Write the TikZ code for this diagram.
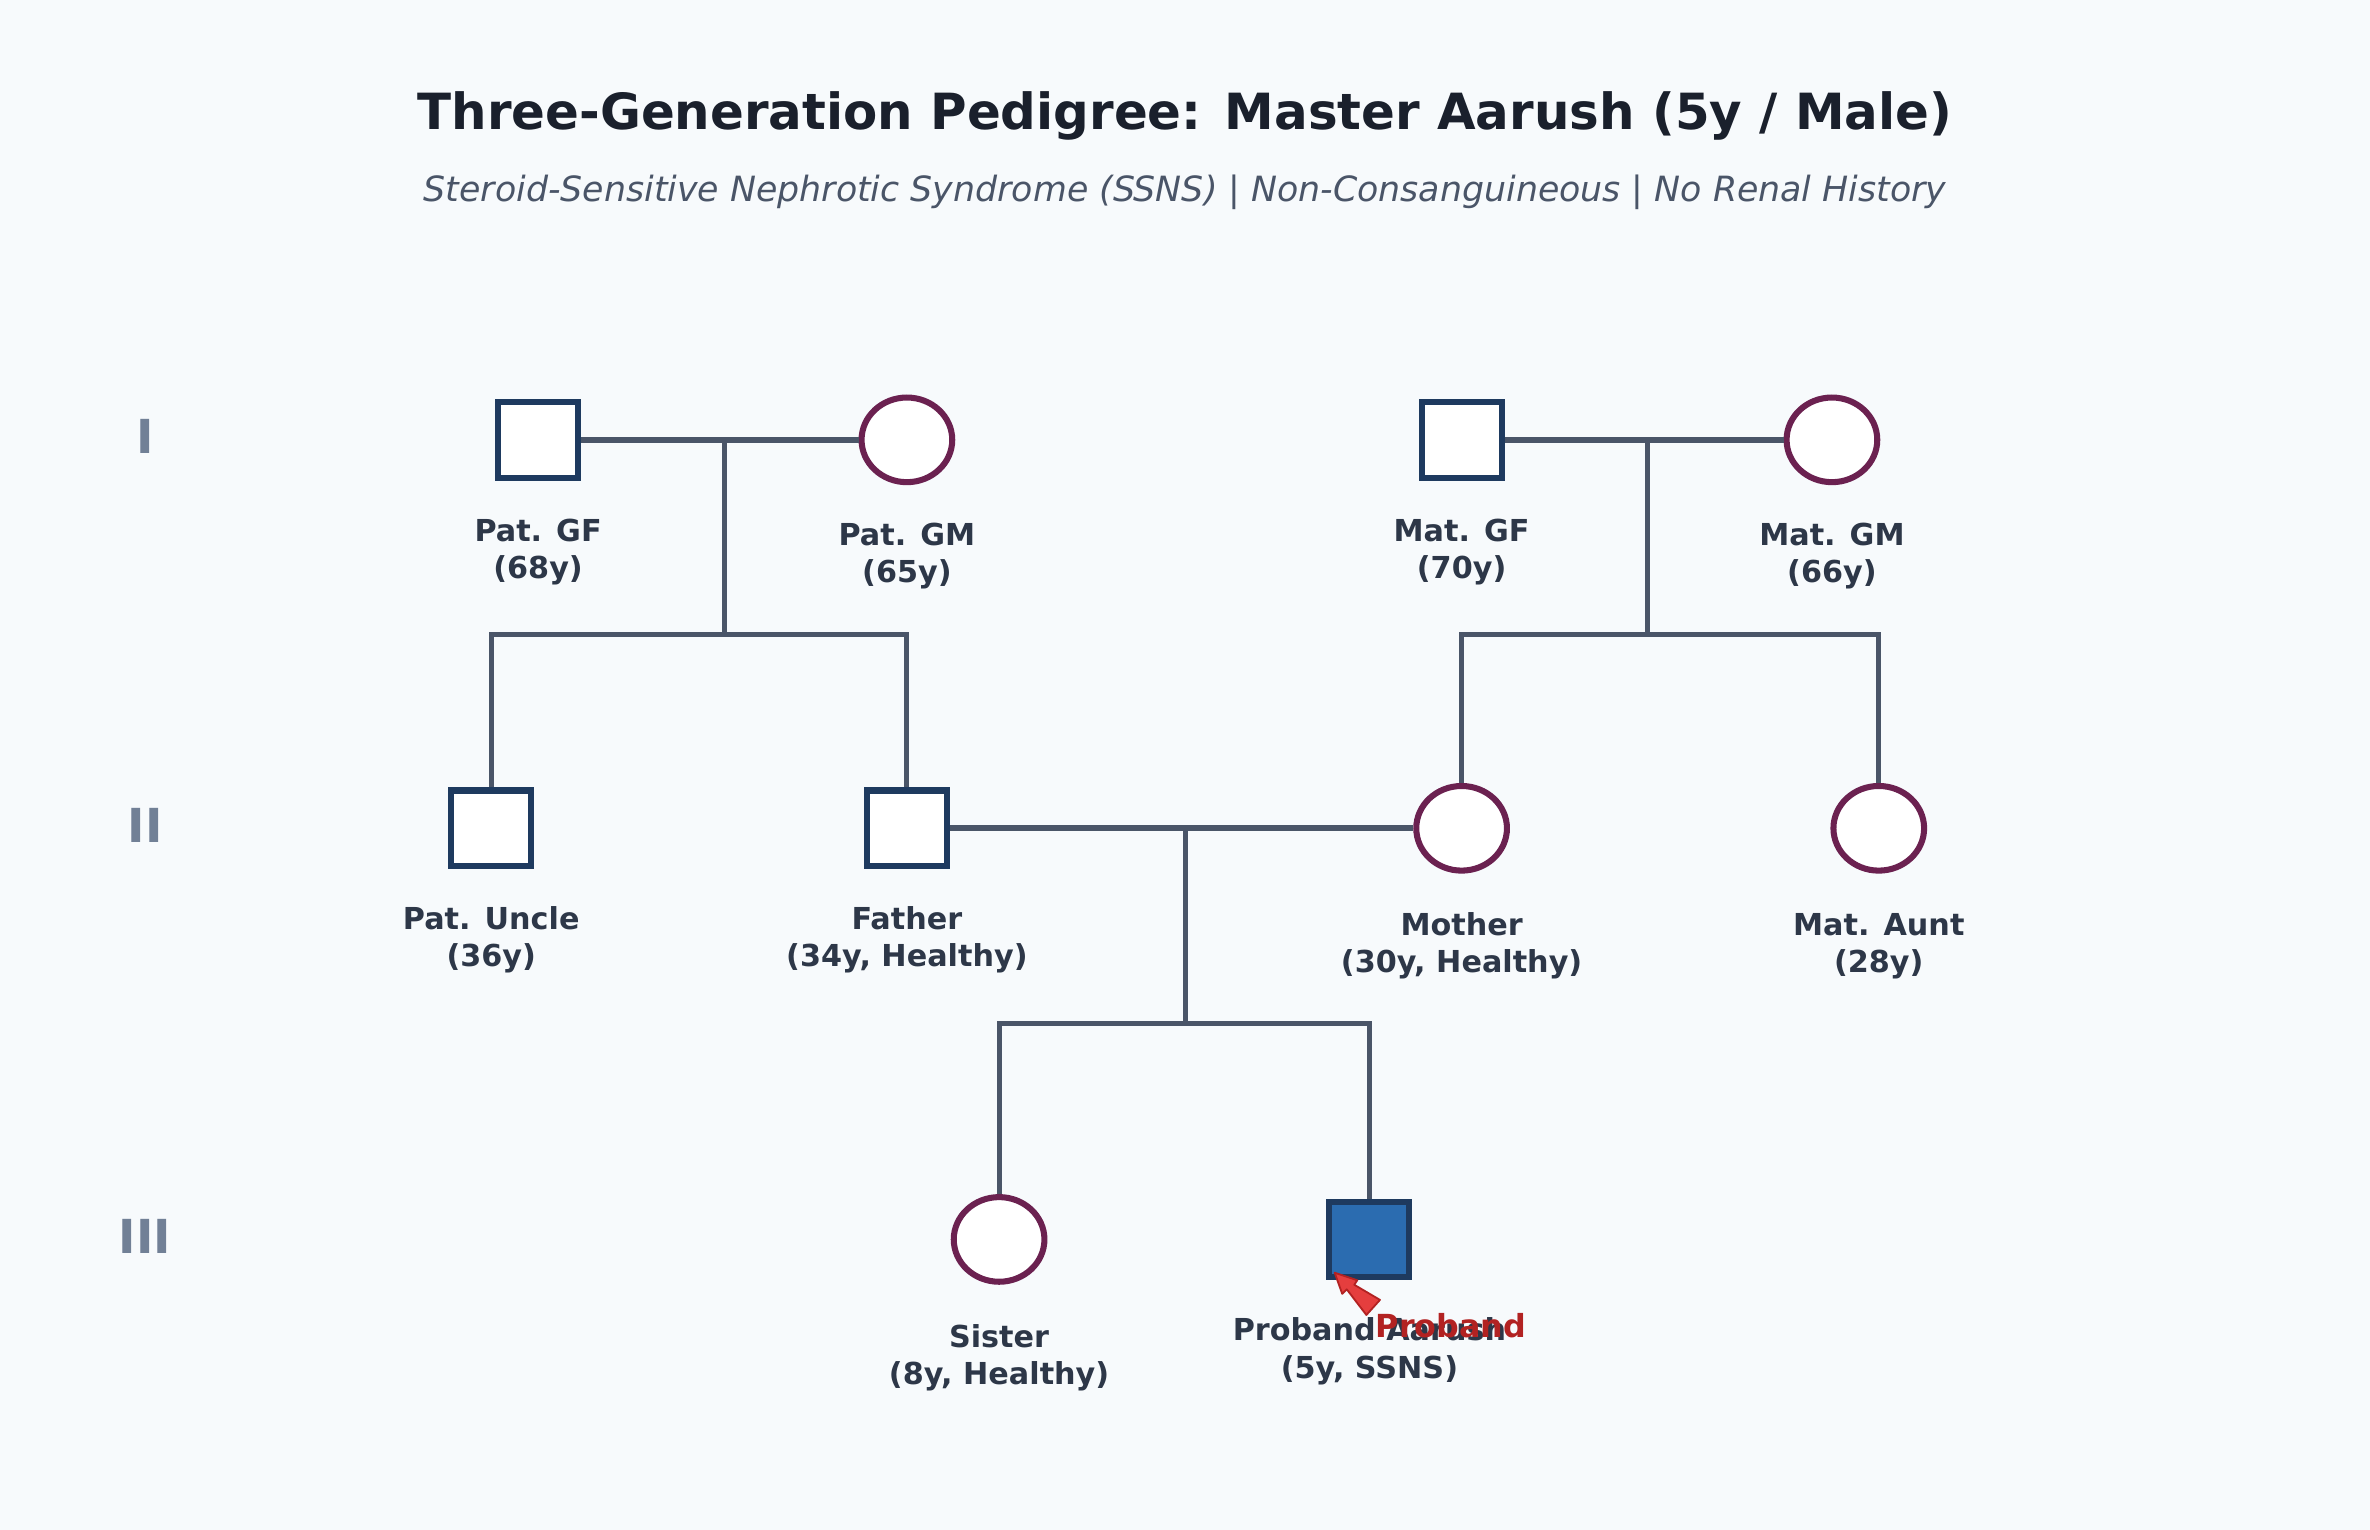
\documentclass[tikz,border=0pt]{standalone}
\usepackage{fontspec}
\setmainfont{DejaVu Sans}
\usetikzlibrary{arrows.meta,shapes.geometric}
\definecolor{bg}{HTML}{F7FAFC}
\definecolor{ln}{HTML}{4A5568}
\definecolor{male}{HTML}{1E3A5F}
\definecolor{fem}{HTML}{6B2150}
\definecolor{txt}{HTML}{2D3748}
\definecolor{ttl}{HTML}{1A202C}
\definecolor{gen}{HTML}{718096}
\definecolor{prob}{HTML}{2B6CB0}
\definecolor{red}{HTML}{B22222}
\definecolor{redf}{HTML}{E53E3E}
\begin{document}
\begin{tikzpicture}[x=1pt,y=-1pt,
  m/.style={draw=male,line width=4pt,fill=white,minimum width=53pt,minimum height=50pt,inner sep=0pt},
  f/.style={draw=fem,line width=4pt,fill=white,ellipse,minimum width=60pt,minimum height=56pt,inner sep=0pt},
  lab/.style={text=txt,font=\bfseries\fontsize{20}{24.5}\selectfont,align=center},
  gl/.style={text=gen,font=\bfseries\fontsize{31}{34}\selectfont},
  rel/.style={draw=ln,line width=4pt},
  sib/.style={draw=ln,line width=3.3pt}]
\fill[bg] (0,0) rectangle (1568,1012);
\useasboundingbox (0,0) rectangle (1568,1012);
\node[text=ttl,font=\bfseries\fontsize{33}{38}\selectfont] (title) at (784,77) {Three-Generation Pedigree: Master Aarush (5y / Male)};
\node[text=ln,font=\itshape\fontsize{23}{26}\selectfont] (sub) at (784,127) {Steroid-Sensitive Nephrotic Syndrome (SSNS) | Non-Consanguineous | No Renal History};
\node[gl] (g1) at (96,289) {I};
\node[gl] (g2) at (96,546) {II};
\node[gl] (g3) at (96,818) {III};
\node[m] (pgf) at (356,291) {};
\node[f] (pgm) at (600,291) {};
\node[m] (mgf) at (967,291) {};
\node[f] (mgm) at (1212,291) {};
\node[m] (unc) at (325,548) {};
\node[m] (fat) at (600,548) {};
\node[f] (mot) at (967,548) {};
\node[f] (aun) at (1243,548) {};
\node[f] (sis) at (661,820) {};
\node[m,fill=prob] (pro) at (906,820) {};
\coordinate (c1) at (479,291); \coordinate (s1) at (479,420);
\coordinate (c2) at (1090,291); \coordinate (s2) at (1090,420);
\coordinate (c3) at (784,548); \coordinate (s3) at (784,677);
\draw[rel] (pgf) -- (pgm);
\draw[rel] (mgf) -- (mgm);
\draw[rel] (fat) -- (mot);
\draw[sib] (c1) -- (s1);
\draw[sib] (c2) -- (s2);
\draw[sib] (c3) -- (s3);
\draw[sib] (unc.north) |- (s1) -| (fat.north);
\draw[sib] (mot.north) |- (s2) -| (aun.north);
\draw[sib] (sis.north) |- (s3) -| (pro.north);
\node[lab] (l1) at (356,365) {Pat. GF\\(68y)};
\node[lab] (l2) at (600,368) {Pat. GM\\(65y)};
\node[lab] (l3) at (967,365) {Mat. GF\\(70y)};
\node[lab] (l4) at (1212,368) {Mat. GM\\(66y)};
\node[lab] (l5) at (325,622) {Pat. Uncle\\(36y)};
\node[lab] (l6) at (600,622) {Father\\(34y, Healthy)};
\node[lab] (l7) at (967,626) {Mother\\(30y, Healthy)};
\node[lab] (l8) at (1243,626) {Mat. Aunt\\(28y)};
\node[lab] (l9) at (661,898) {Sister\\(8y, Healthy)};
\node[lab] (l10) at (906,894) {Proband Aarush\\(5y, SSNS)};
\coordinate (ah) at (883,842);
\draw[draw=red,fill=redf,line width=1.2pt,line join=round]
  (ah) -- (898,847) -- (896,850) -- (913,860) -- (904,870) -- (891,853) -- (888,856) -- cycle;
\node[text=red,font=\bfseries\fontsize{21}{24}\selectfont] (pl) at (960,877) {Proband};
\end{tikzpicture}
\end{document}
